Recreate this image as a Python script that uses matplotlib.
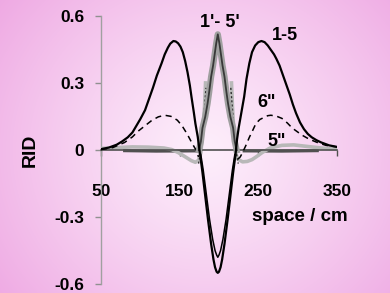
import numpy as np
import matplotlib
matplotlib.use("Agg")
import matplotlib.pyplot as plt

plt.rcParams["font.family"] = ["Liberation Sans", "DejaVu Sans"]
plt.rcParams["font.weight"] = "bold"

# curve "1-5" (solid, with the deep central well)
x_15 = [50, 60, 70, 77, 84, 90, 95, 100, 106, 111, 116, 121, 127, 131, 135, 138, 142, 145,
        148, 151, 154, 157, 160, 163, 165, 168, 170, 173,
        176, 179, 182, 186, 190, 193, 195, 197, 198.5, 200, 202, 204, 207, 211, 215, 218, 221,
        223, 225, 227, 230, 232, 235, 238.6, 242, 246, 250, 254, 258, 262, 266, 270, 273,
        277, 281, 285, 290, 294, 298, 303, 308, 313, 318, 324, 330, 340, 350]
y_15 = [0.005, 0.012, 0.025, 0.04, 0.058, 0.08, 0.11, 0.14, 0.18, 0.23, 0.28, 0.335, 0.39, 0.43, 0.46, 0.478, 0.49, 0.488,
        0.48, 0.465, 0.44, 0.40, 0.35, 0.29, 0.24, 0.17, 0.12, 0.06,
        -0.02, -0.1, -0.19, -0.31, -0.42, -0.49, -0.525, -0.545, -0.55, -0.545, -0.525, -0.49, -0.42, -0.31, -0.19, -0.1, -0.02,
        0.05, 0.10, 0.14, 0.20, 0.24, 0.32, 0.39, 0.44, 0.47, 0.485, 0.49, 0.485, 0.47, 0.45, 0.43, 0.41,
        0.38, 0.34, 0.30, 0.25, 0.205, 0.166, 0.125, 0.095, 0.073, 0.058, 0.045, 0.035, 0.022, 0.015]

# curve 6'' (dashed lobes) and its inner well
x_6l = [50, 65, 80, 90, 97, 106, 115, 123, 131, 139, 147, 153, 159, 163, 166, 169, 171, 174]
y_6l = [0.003, 0.012, 0.035, 0.06, 0.085, 0.11, 0.135, 0.15, 0.157, 0.152, 0.135, 0.11, 0.076, 0.05, 0.03, 0.012, 0.0, -0.03]
x_6r = [224, 227, 230, 234, 238.6, 243, 247, 252, 257.6, 262, 266, 273, 280, 287, 293, 300, 306, 312, 318, 327, 336, 350]
y_6r = [-0.04, -0.03, -0.01, 0.02, 0.058, 0.09, 0.12, 0.138, 0.148, 0.155, 0.157, 0.153, 0.143, 0.122, 0.10, 0.082, 0.067, 0.055, 0.045, 0.032, 0.022, 0.015]
x_well = [176, 180, 184, 188, 192, 195, 197, 198.5, 200, 202, 205, 209, 213, 217, 221]
y_well = [0.0, -0.09, -0.2, -0.31, -0.4, -0.45, -0.47, -0.48, -0.47, -0.45, -0.4, -0.31, -0.2, -0.09, 0.0]

# curve 5'' (light grey, dips then spikes)
x_5l = [50, 70, 90, 110, 130, 140, 148, 155, 160, 165, 170, 174, 177, 179.4, 181.6, 183]
y_5l = [0.008, 0.012, 0.015, 0.014, 0.01, 0.003, -0.01, -0.025, -0.036, -0.047, -0.054, -0.045, -0.01, 0.09, 0.19, 0.31]
x_5r = [215.8, 217.2, 218.8, 221, 224, 230, 236, 242, 248, 255, 265, 280, 295, 310, 330, 350]
y_5r = [0.31, 0.19, 0.09, -0.01, -0.04, -0.052, -0.05, -0.042, -0.028, -0.01, 0.01, 0.022, 0.024, 0.018, 0.01, 0.005]

# dotted companions of the spikes
x_dl = [174, 177, 179.4, 181.6, 183.5]
y_dl = [-0.06, 0.0, 0.09, 0.19, 0.28]
x_dr = [215, 217, 219, 221.5, 224.5]
y_dr = [0.28, 0.19, 0.09, 0.0, -0.06]

# dark flat stretches near zero
x_fl = [80, 120, 170]
y_fl = [-0.002, -0.004, -0.003]
x_fr = [232, 280, 325]
y_fr = [-0.003, -0.004, -0.002]

# central peak 1'-5'
x_c = [174.5, 177, 179, 182.5, 185.5, 187.5, 190, 192.5, 194.5, 196.5, 198.5,
       200.5, 202.5, 204.5, 207, 209.5, 211.5, 214.5, 218, 220, 222.5]
y_c = [0.0, 0.04, 0.10, 0.15, 0.21, 0.26, 0.33, 0.38, 0.43, 0.48, 0.52,
       0.48, 0.43, 0.38, 0.33, 0.26, 0.21, 0.15, 0.10, 0.04, 0.0]

yticks = [0.6, 0.3, 0, -0.3, -0.6]
ylabels = ["0.6", "0.3", "0", "-0.3", "-0.6"]
xticks = [50, 150, 250, 350]

fig = plt.figure(figsize=(3.9, 2.93), dpi=100)

# pink radial background
bg = fig.add_axes([0, 0, 1, 1])
h, w = 293, 390
yy, xx = np.mgrid[0:h, 0:w]
r = np.sqrt(((xx - 205) / 1.0) ** 2 + ((yy - 150) / 0.95) ** 2)
t = np.clip(r / 270.0, 0, 1) ** 1.2
c0 = np.array([253, 238, 251]) / 255.0
c1 = np.array([238, 166, 226]) / 255.0
img = c0[None, None, :] * (1 - t[..., None]) + c1[None, None, :] * t[..., None]
bg.imshow(img, aspect="auto", extent=[0, 1, 0, 1], origin="upper")
bg.axis("off")

ax = fig.add_axes([0.259, 0.0307, 0.605, 0.913])
ax.patch.set_alpha(0)

ax.plot(x_fl, y_fl, color="#505050", lw=2.2, zorder=2)
ax.plot(x_fr, y_fr, color="#505050", lw=2.2, zorder=2)
ax.plot(x_5l, y_5l, color="#b8b8b8", lw=2.6, zorder=3, solid_capstyle="butt")
ax.plot(x_5r, y_5r, color="#b8b8b8", lw=2.6, zorder=3, solid_capstyle="butt")
ax.plot(x_dl, y_dl, color="#303030", lw=1.0, ls=(0, (1.5, 1.5)), zorder=4)
ax.plot(x_dr, y_dr, color="#303030", lw=1.0, ls=(0, (1.5, 1.5)), zorder=4)
ax.plot(x_6l, y_6l, color="black", lw=1.1, ls=(0, (4, 3)), zorder=4)
ax.plot(x_6r, y_6r, color="black", lw=1.1, ls=(0, (4, 3)), zorder=4)
ax.plot(x_well, y_well, color="black", lw=1.1, zorder=4)
ax.plot(x_c, y_c, color="#a0a0a0", lw=4.5, zorder=4)
ax.plot(x_c, y_c, color="#383838", lw=1.3, zorder=5)
ax.plot(x_15, y_15, color="black", lw=1.6, zorder=6)

ax.set_xlim(50, 350)
ax.set_ylim(-0.6, 0.6)
ax.spines["top"].set_visible(False)
ax.spines["right"].set_visible(False)
ax.spines["left"].set_color("#a0a0a0")
ax.spines["left"].set_linewidth(1.0)
ax.spines["bottom"].set_position(("data", 0))
ax.spines["bottom"].set_color("#505050")
ax.spines["bottom"].set_linewidth(1.2)
ax.spines["bottom"].set_zorder(3.5)

ax.set_yticks(yticks)
ax.set_yticklabels(ylabels)
ax.set_xticks(xticks)
ax.set_xticklabels([str(v) for v in xticks])
ax.tick_params(axis="y", length=4, width=1, color="#909090", pad=8, labelsize=12.5)
ax.tick_params(axis="x", length=4, width=1, color="#505050", pad=20, labelsize=12.5)

ax.text(200.6, 0.574, "1'- 5'", fontsize=13, ha="center", va="center")
ax.text(284, 0.516, "1-5", fontsize=13, ha="center", va="center")
ax.text(261, 0.212, '6"', fontsize=13, ha="center", va="center")
ax.text(273, 0.04, '5"', fontsize=13, ha="center", va="center")
ax.text(303, -0.299, "space / cm", fontsize=13.5, ha="center", va="center")
fig.text(30 / 390, 1 - 150 / 293, "RID", fontsize=14, rotation=90, ha="center", va="center")

fig.savefig("out.png", dpi=100)
